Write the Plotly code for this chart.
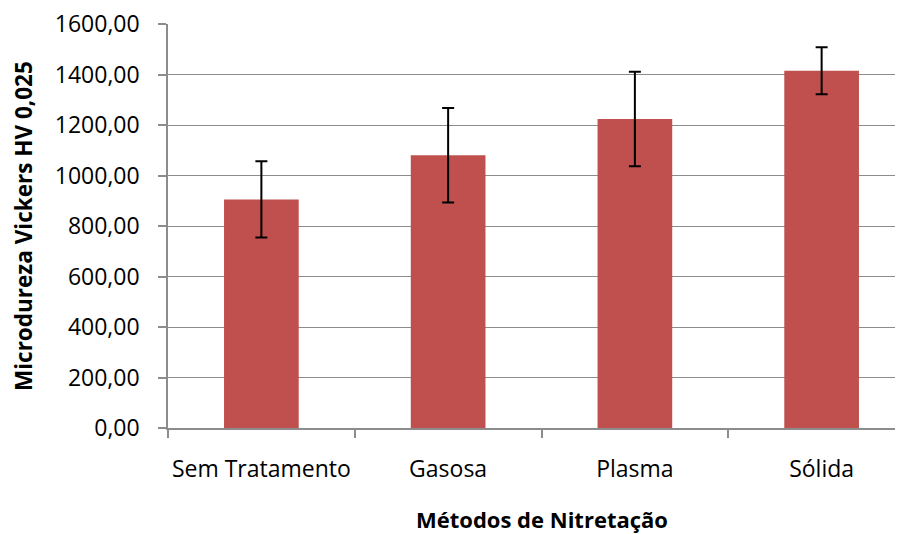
import plotly.graph_objects as go

categories = ["Sem Tratamento", "Gasosa", "Plasma", "Sólida"]
values = [905, 1080, 1224, 1415]
errors = [151, 187, 187, 93]
y_ticks = [0, 200, 400, 600, 800, 1000, 1200, 1400, 1600]

FONT = "Open Sans"
GRID = "#8c8c8c"

# page body has an 8px offset; screen coords below
OFF = 8
plot_left, plot_right = 168, 915
plot_top, plot_bottom = 24, 428

W = plot_right - OFF
H = 534 - OFF
L = plot_left - OFF
T = plot_top - OFF
B = H - (plot_bottom - OFF)
plot_w = plot_right - plot_left
plot_h = plot_bottom - plot_top

fig = go.Figure()
fig.add_trace(go.Bar(
    x=categories, y=values, width=0.40,
    marker=dict(color="#C0504D", line=dict(width=0)),
    error_y=dict(type="data", array=errors, visible=True, color="#000000",
                 thickness=2, width=6),
))

fig.update_layout(
    width=W, height=H,
    margin=dict(l=L, r=0, t=T, b=B, pad=0, autoexpand=False),
    paper_bgcolor="white", plot_bgcolor="white",
    separators=",.",
    showlegend=False,
    font=dict(family=FONT, size=23, color="#000000"),
)
fig.update_xaxes(
    type="category", range=[-0.5, 3.5], tickangle=0, automargin=False,
    showline=True, linecolor=GRID, linewidth=1.5,
    ticks="outside", tickson="boundaries", ticklen=8, tickcolor=GRID, tickwidth=1.5,
    ticklabelstandoff=20,
    tickfont=dict(family=FONT, size=23, color="#000000"),
    showgrid=False, zeroline=False,
)
fig.update_yaxes(
    range=[0, 1600], tickvals=y_ticks, tickformat=".2f", automargin=False,
    ticklabeloverflow="allow",
    showline=True, linecolor=GRID, linewidth=1.5,
    ticks="outside", ticklen=8, tickcolor=GRID, tickwidth=1.5,
    ticklabelstandoff=14,
    tickfont=dict(family=FONT, size=23, color="#000000"),
    showgrid=True, gridcolor=GRID, gridwidth=1.2,
    zeroline=False,
)
fig.add_annotation(
    text="<b>Métodos de Nitretação</b>", xref="x", yref="paper",
    x=1.5, y=-(519 - plot_bottom) / plot_h, showarrow=False,
    font=dict(family=FONT, size=22, color="#000000"),
    xanchor="center", yanchor="middle",
)
fig.add_annotation(
    text="<b>Microdureza Vickers HV 0,025</b>", xref="paper", yref="paper",
    x=(23 - plot_left) / plot_w, y=0.5, textangle=-90, showarrow=False,
    font=dict(family=FONT, size=22.5, color="#000000"),
    xanchor="center", yanchor="middle",
)
fig.write_html("out.html")
